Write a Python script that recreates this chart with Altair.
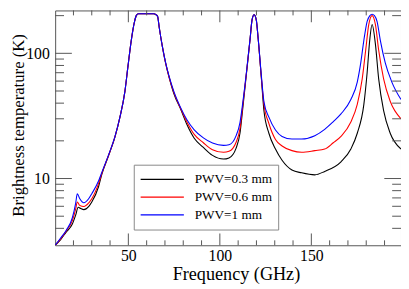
import altair as alt
import pandas as pd

# ---- data ----
labels = ["PWV=0.3 mm", "PWV=0.6 mm", "PWV=1 mm"]
colors = ["#000000", "#ff0000", "#0000ff"]

freq_03 = [10, 13, 16, 19.4, 21.2, 22.6, 24, 25.7, 28.4, 30.1,
           33.7, 35.5, 39.1, 42.7, 45.4, 48.1, 49.8, 51.6, 53.4, 54.4,
           55.5, 60, 63.8, 65.2, 66, 66.9, 68.6, 70.4, 72.2, 74.9,
           78.5, 82, 86, 91, 96, 102, 105, 108.9, 111, 112.5,
           114.5, 116.6, 117.6, 118.75, 119.9, 120.9, 122.7, 124.1, 126.8, 130.4,
           134, 139.4, 144.7, 151.9, 157.3, 166.2, 171.6, 175.1,
           178.7, 180.5, 181.9, 183.2, 185, 186.8, 189.5, 193.1, 199]
temp_03 = [2.93, 3.25, 3.73, 4.33, 5.1, 5.9, 5.75, 5.64, 6.0, 6.52,
           8.6, 10.8, 15.1, 21.5, 30.9, 49.4, 79, 127, 180, 201,
           207, 207, 207, 203, 197, 160, 113, 83, 65, 47.5,
           36, 27, 21, 17.7, 15.3, 14.3, 14.6, 17.5, 23, 36,
           68, 133, 185, 203, 185, 133, 63, 34.8, 23, 17.2,
           14, 11.7, 11.1, 10.7, 11.4, 13.6, 17.2, 23,
           39.1, 70.3, 127, 170, 119, 62.5, 34.8, 23, 17.2]

freq_06 = [10, 13, 16, 19.4, 21.2, 22.1, 23.4, 25.7, 28.4, 30.1,
           33.7, 35.5, 39.1, 42.7, 45.4, 48.1, 49.8, 51.6, 53.4, 54.4,
           55.5, 60, 63.8, 65.2, 66, 66.9, 68.6, 70.4, 72.2, 74.9,
           78.5, 82, 86, 91, 96, 102, 105, 108.9, 111, 112.5,
           114.5, 116.6, 117.6, 118.75, 119.9, 120.9, 122.7, 124.1, 126.8, 130.4,
           134, 139.4, 144.7, 151.9, 157.3, 162, 166.2, 171.6, 175.1,
           177.8, 179.7, 181.4, 183.2, 185, 186.8, 189.5, 193.1, 199]
temp_06 = [2.93, 3.3, 3.8, 4.61, 5.7, 6.5, 6.1, 5.97, 6.4, 6.92,
           9.1, 11.0, 15.2, 21.6, 30.9, 49.4, 79, 127, 180, 201,
           207, 207, 207, 203, 197, 160, 113, 83, 65, 48.5,
           36.5, 28.3, 22.5, 19.3, 17, 16.2, 16.5, 19.5, 25, 38,
           69, 133, 185, 203, 185, 133, 64, 39, 27.5, 20.5,
           18.2, 16.7, 16.2, 16.7, 17.2, 19.3, 21.7, 28.3, 39.1,
           62.5, 106, 170, 200, 170, 106, 62.5, 41.4, 30]

freq_10 = [10, 13, 16, 19.4, 21.2, 22.1, 23.4, 25.7, 28.4, 30.1,
           33.7, 35.5, 39.1, 42.7, 45.4, 48.1, 49.8, 51.6, 53.4, 54.4,
           55.5, 60, 63.8, 65.2, 66, 66.9, 68.6, 70.4, 72.2, 74.9,
           78.5, 82, 86, 91, 96, 102, 105, 108.9, 111, 112.5,
           114.5, 116.6, 117.6, 118.75, 119.9, 120.9, 122.7, 124.1, 126.8, 130.4,
           134, 139.4, 144.7, 151.9, 157.3, 162, 166.2, 171.6, 175.1, 177,
           178.7, 180.5, 182, 183.2, 184.5, 185.9, 187.7, 190.4, 194, 199]
temp_10 = [2.93, 3.35, 3.85, 4.86, 6.34, 7.55, 6.92, 6.4, 6.92, 7.6,
           9.55, 11.2, 15.3, 21.7, 30.9, 49.4, 79, 127, 180, 201,
           207, 207, 207, 203, 197, 160, 113, 84, 66, 49.4,
           37, 29.5, 24.5, 21.1, 19.2, 18.4, 18.6, 22, 28, 40,
           70, 134, 185, 203, 185, 134, 66, 41, 30.9, 24.4,
           21.7, 20.7, 20.7, 22, 24.7, 28.5, 32.8, 42.7, 58.9, 83.8,
           127, 180, 200, 205, 200, 180, 127, 83.8, 58.9, 42.7]

x_major_ticks = [50, 100, 150]
x_minor_ticks = [20, 30, 40, 60, 70, 80, 90, 110, 120, 130, 140, 160, 170, 180, 190]
y_major_ticks = [10, 100]
y_minor_ticks = [4, 5, 6, 7, 8, 9, 20, 30, 40, 50, 60, 70, 80, 90, 200]

x_domain = [10, 199]
y_domain = [2.93, 220]

# ---- layout ----
W, H = 352, 239
FONT = "Liberation Serif"
FRAME = "#555555"

rows = []
for lab, fs, ts in zip(labels, [freq_03, freq_06, freq_10], [temp_03, temp_06, temp_10]):
    for f, t in zip(fs, ts):
        rows.append({"f": f, "t": t, "s": lab})
df = pd.DataFrame(rows)

xscale = alt.Scale(domain=x_domain, nice=False, zero=False)
yscale = alt.Scale(type="log", domain=y_domain, nice=False)

xaxis = alt.Axis(values=x_major_ticks, ticks=False, tickSize=0, domain=False, grid=False,
                 labelFont=FONT, labelFontSize=16, labelColor="black", labelPadding=3,
                 titleFont=FONT, titleFontSize=18.5, titleFontWeight="normal",
                 titleColor="black", titleX=184, titleY=35, titleAlign="center",
                 titleBaseline="alphabetic")
yaxis = alt.Axis(values=y_major_ticks, format="d", ticks=False, tickSize=0, domain=False,
                 grid=False, labelFont=FONT, labelFontSize=16, labelColor="black",
                 labelPadding=6, titleFont=FONT, titleFontSize=17,
                 titleFontWeight="normal", titleColor="black", titleX=-32.5, titleY=116.5,
                 titleAngle=270, titleAlign="center", titleBaseline="alphabetic")
XT = "Frequency (GHz)"
YT = "Brightness temperature (K)"

lines = alt.Chart(df).mark_line(strokeWidth=1.1, interpolate="monotone", clip=True).encode(
    x=alt.X("f:Q", scale=xscale, title=XT, axis=xaxis),
    y=alt.Y("t:Q", scale=yscale, title=YT, axis=yaxis),
    color=alt.Color("s:N", scale=alt.Scale(domain=labels, range=colors),
                    legend=alt.Legend(title=None, orient="none", legendX=80, legendY=157,
                                      direction="vertical", symbolType="stroke",
                                      symbolSize=1936, symbolStrokeWidth=1.2, clipHeight=18,
                                      labelFont=FONT, labelFontSize=13.5, labelColor="black",
                                      labelOffset=10, rowPadding=0, padding=6,
                                      strokeColor="#888888", fillColor="white")),
)


def xticks(vals, length, top):
    d = pd.DataFrame({"f": vals})
    y0 = 0 if top else H
    y1 = length if top else H - length
    return alt.Chart(d).mark_rule(color=FRAME, strokeWidth=1).encode(
        x=alt.X("f:Q", scale=xscale, title=XT, axis=xaxis), y=alt.value(y0), y2=alt.value(y1))


def yticks(vals, length, right):
    d = pd.DataFrame({"t": vals})
    x0 = W if right else 0
    x1 = W - length if right else length
    return alt.Chart(d).mark_rule(color=FRAME, strokeWidth=1).encode(
        y=alt.Y("t:Q", scale=yscale, title=YT, axis=yaxis), x=alt.value(x0), x2=alt.value(x1))


tick_layers = [
    xticks(x_major_ticks, 12, False), xticks(x_minor_ticks, 5, False),
    xticks(x_major_ticks, 12, True), xticks(x_minor_ticks, 5, True),
    yticks(y_major_ticks, 17, False), yticks(y_minor_ticks, 9, False),
    yticks(y_major_ticks, 17, True), yticks(y_minor_ticks, 9, True),
]

chart = alt.layer(lines, *tick_layers).properties(
    width=W, height=H,
    autosize=alt.AutoSizeParams(type="none"),
    padding={"left": 48, "top": 0, "right": 0, "bottom": 41},
).configure_view(stroke=FRAME, strokeWidth=1)

chart.save("out.html", embed_options={"renderer": "svg", "actions": False})
